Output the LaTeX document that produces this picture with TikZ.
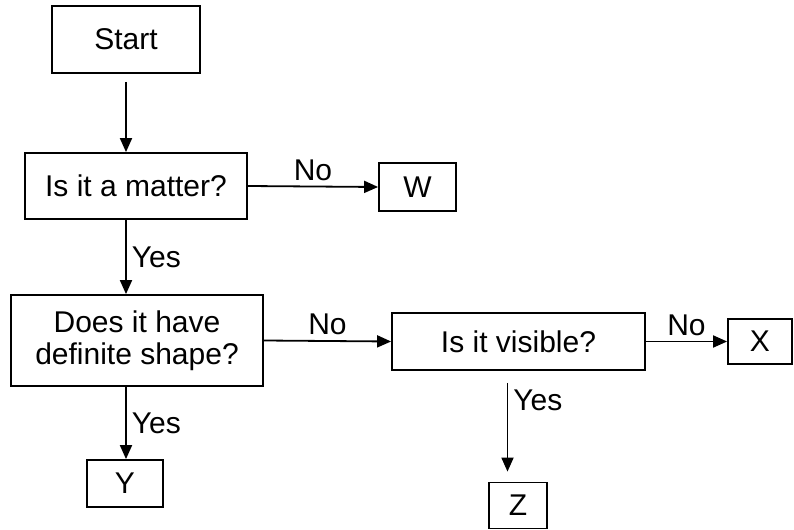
\documentclass[tikz,border=0pt]{standalone}
\usepackage{fontspec}
\setmainfont{Liberation Sans}
\usetikzlibrary{arrows.meta}

\begin{document}
\begin{tikzpicture}[x=0.5pt,y=-0.5pt,font=\fontsize{15}{16}\selectfont,
    block/.style={draw,line width=0.9pt,align=center,inner sep=0pt},
    flow/.style={-{Triangle[length=7pt,width=6pt]},line width=0.9pt},
    ans/.style={inner sep=2.5pt}]
    \useasboundingbox (0,0) rectangle (794,530);
    \node[block,minimum width=74pt,minimum height=33.5pt] (start) at (126,39.5) {Start};
    \node[block,minimum width=111pt,minimum height=33pt] (matter) at (136,186) {Is it a matter?};
    \node[block,minimum width=38.5pt,minimum height=24pt] (boxW) at (417.5,187) {W};
    \node[block,minimum width=126pt,minimum height=45.5pt] (shape) at (137,340.5)
      {Does it have\\definite shape?};
    \node[block,minimum width=126.5pt,minimum height=28.5pt] (visible) at (518.5,341.5)
      {Is it visible?};
    \node[block,minimum width=32pt,minimum height=22.5pt] (boxX) at (760,341.5) {X};
    \node[block,minimum width=38pt,minimum height=23.5pt] (boxY) at (125,483.5) {Y};
    \node[block,minimum width=29pt,minimum height=23pt] (boxZ) at (518,505.5) {Z};

    \draw[flow,shorten <=4pt] (start.south) -- (start.south |- matter.north);
    \draw[flow] (matter.east) -- (boxW.west) node[ans,midway,above] {No};
    \draw[flow] (start.south |- matter.south) -- (start.south |- shape.north)
      node[ans,midway,right] {Yes};
    \draw[flow] (shape.east) -- (visible.west) node[ans,midway,above] {No};
    \draw[flow] (visible.east) -- (boxX.west) node[ans,midway,above] {No};
    \draw[flow] (start.south |- shape.south) -- (start.south |- boxY.north)
      node[ans,midway,right] {Yes};
    \draw[flow,shorten <=6pt,shorten >=5pt] ([xshift=-5.5pt]visible.south)
      -- ([xshift=-5.5pt]visible.south |- boxZ.north) node[ans,pos=0.27,right] {Yes};
  \end{tikzpicture}
\end{document}
